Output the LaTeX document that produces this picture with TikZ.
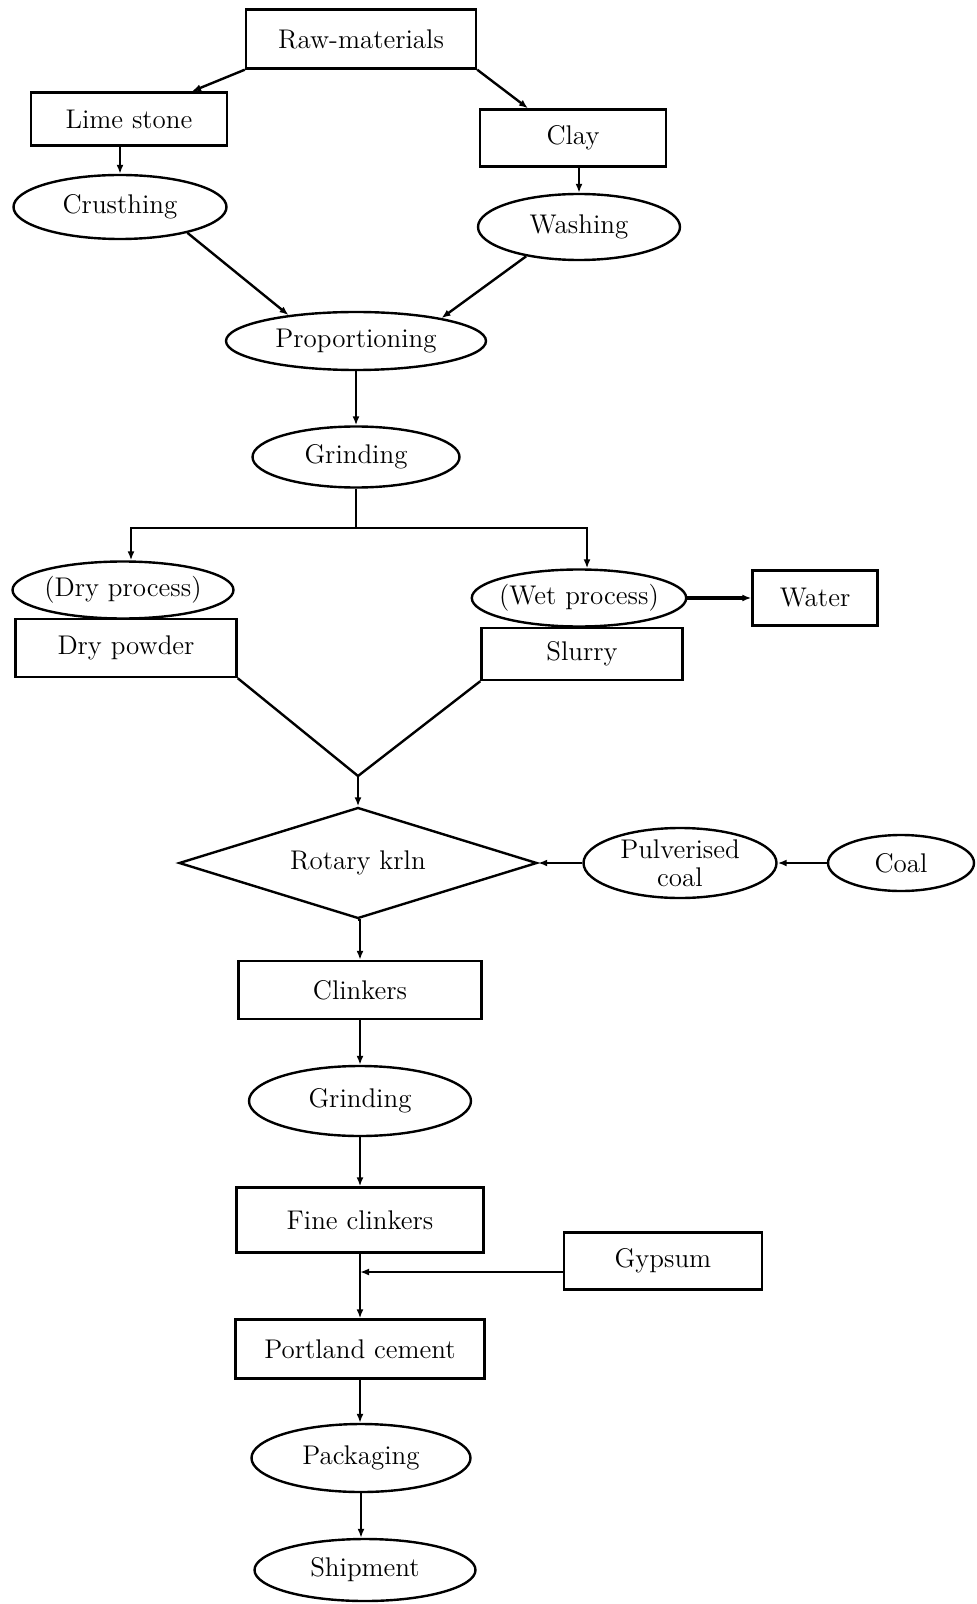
\documentclass[tikz,border=0pt]{standalone}
\usetikzlibrary{shapes.geometric,arrows.meta}
\begin{document}
\begin{tikzpicture}[x=0.5pt,y=-0.5pt, line width=1.2pt,
  >={Latex[length=4.5pt,width=3.5pt]},
  every node/.style={font=\fontsize{13.5}{14}\selectfont, inner sep=0pt, line width=1.2pt},
  box/.style={draw, rectangle},
  oval/.style={draw, ellipse},
  kilnshape/.style={draw, diamond, shape aspect=3.2}]
\useasboundingbox (0,0) rectangle (976,1604);

% nodes
\node[box, minimum width=115pt, minimum height=29.5pt] (raw) at (361,39) {Raw-materials};
\node[box, minimum width=98pt, minimum height=26.5pt] (lime) at (129,119) {Lime stone};
\node[box, minimum width=93pt, minimum height=28.5pt] (clay) at (573,138) {Clay};
\node[oval, minimum width=106.5pt, minimum height=32pt] (crush) at (120,207) {Crusthing};
\node[oval, minimum width=101pt, minimum height=33pt] (wash) at (579,227) {Washing};
\node[oval, minimum width=130pt, minimum height=29pt] (prop) at (356,341) {Proportioning};
\node[oval, minimum width=103.5pt, minimum height=30.5pt] (grind1) at (356,457) {Grinding};
\node[oval, minimum width=110.5pt, minimum height=28.5pt, inner xsep=-2pt] (dryp) at (123,590) {(Dry process)};
\node[box, minimum width=110.5pt, minimum height=29pt] (drypow) at (126,648) {Dry powder};
\node[oval, minimum width=101pt, minimum height=28.5pt, inner xsep=-2pt] (wetp) at (579,598) {(Wet process)};
\node[box, minimum width=62.5pt, minimum height=27.5pt] (water) at (815,598) {Water};
\node[box, minimum width=100.5pt, minimum height=26pt] (slurry) at (582,654) {Slurry};
\node[kilnshape, minimum width=179pt, minimum height=55.5pt] (kiln) at (358,863) {Rotary krln};
\node[oval, minimum width=96.5pt, minimum height=35pt, inner ysep=-3pt, align=center] (pulv) at (680,863) {Pulverised\\coal};
\node[oval, minimum width=73pt, minimum height=28pt] (coal) at (901,863) {Coal};
\node[box, minimum width=121.5pt, minimum height=29pt] (clink) at (360,990) {Clinkers};
\node[oval, minimum width=111pt, minimum height=35pt] (grind2) at (360,1101) {Grinding};
\node[box, minimum width=123.5pt, minimum height=32.5pt] (fine) at (360,1220) {Fine clinkers};
\node[box, minimum width=99pt, minimum height=28.5pt] (gyp) at (663,1261) {Gypsum};
\node[box, minimum width=124.5pt, minimum height=29.5pt] (port) at (360,1349) {Portland cement};
\node[oval, minimum width=109.5pt, minimum height=34pt] (pack) at (361,1458) {Packaging};
\node[oval, minimum width=110.5pt, minimum height=31pt] (ship) at (365,1570) {Shipment};

% junction coordinates
\coordinate (lvl) at (0,528);
\coordinate (br) at (grind1.south |- lvl);
\coordinate (v) at (358,776);

% connectors
\draw[->] (raw.south west) -- ([xshift=31.5pt]lime.north);
\draw[->] (raw.south east) -- ([xshift=-22.5pt]clay.north);
\draw[->] (crush.north |- lime.south) -- (crush.north);
\draw[->] (wash.north |- clay.south) -- (wash.north);
\draw[->] (crush.-21) -- (prop.159);
\draw[->] (wash.-151) -- (prop.15);
\draw[->] (prop.south) -- (grind1.north);
\draw (grind1.south) -- (br);
\draw[->] (br) -| ([xshift=4pt]dryp.north);
\draw[->] (br) -| ([xshift=4pt]wetp.north);
\draw[->, line width=1.8pt] (wetp.east) -- (water.west);
\draw (drypow.south east) -- (v);
\draw (slurry.south west) -- (v);
\draw[->] (v) -- (kiln.north);
\draw[->] (coal.west) -- (pulv.east);
\draw[->] (pulv.west) -- (kiln.east);
\draw[->] (kiln.south) -- (kiln.south -| clink.north) -- (clink.north);
\draw[->] (clink.south) -- (grind2.north);
\draw[->] (grind2.south) -- (fine.north);
\draw[->] (fine.south) -- (port.north);
\draw[->] ([yshift=-5.5pt]gyp.west) -- ([yshift=-5.5pt]gyp.west -| fine.south);
\draw[->] (port.south) -- (pack.north -| port.south);
\draw[->] (pack.south) -- (ship.north -| pack.south);
\end{tikzpicture}
\end{document}
